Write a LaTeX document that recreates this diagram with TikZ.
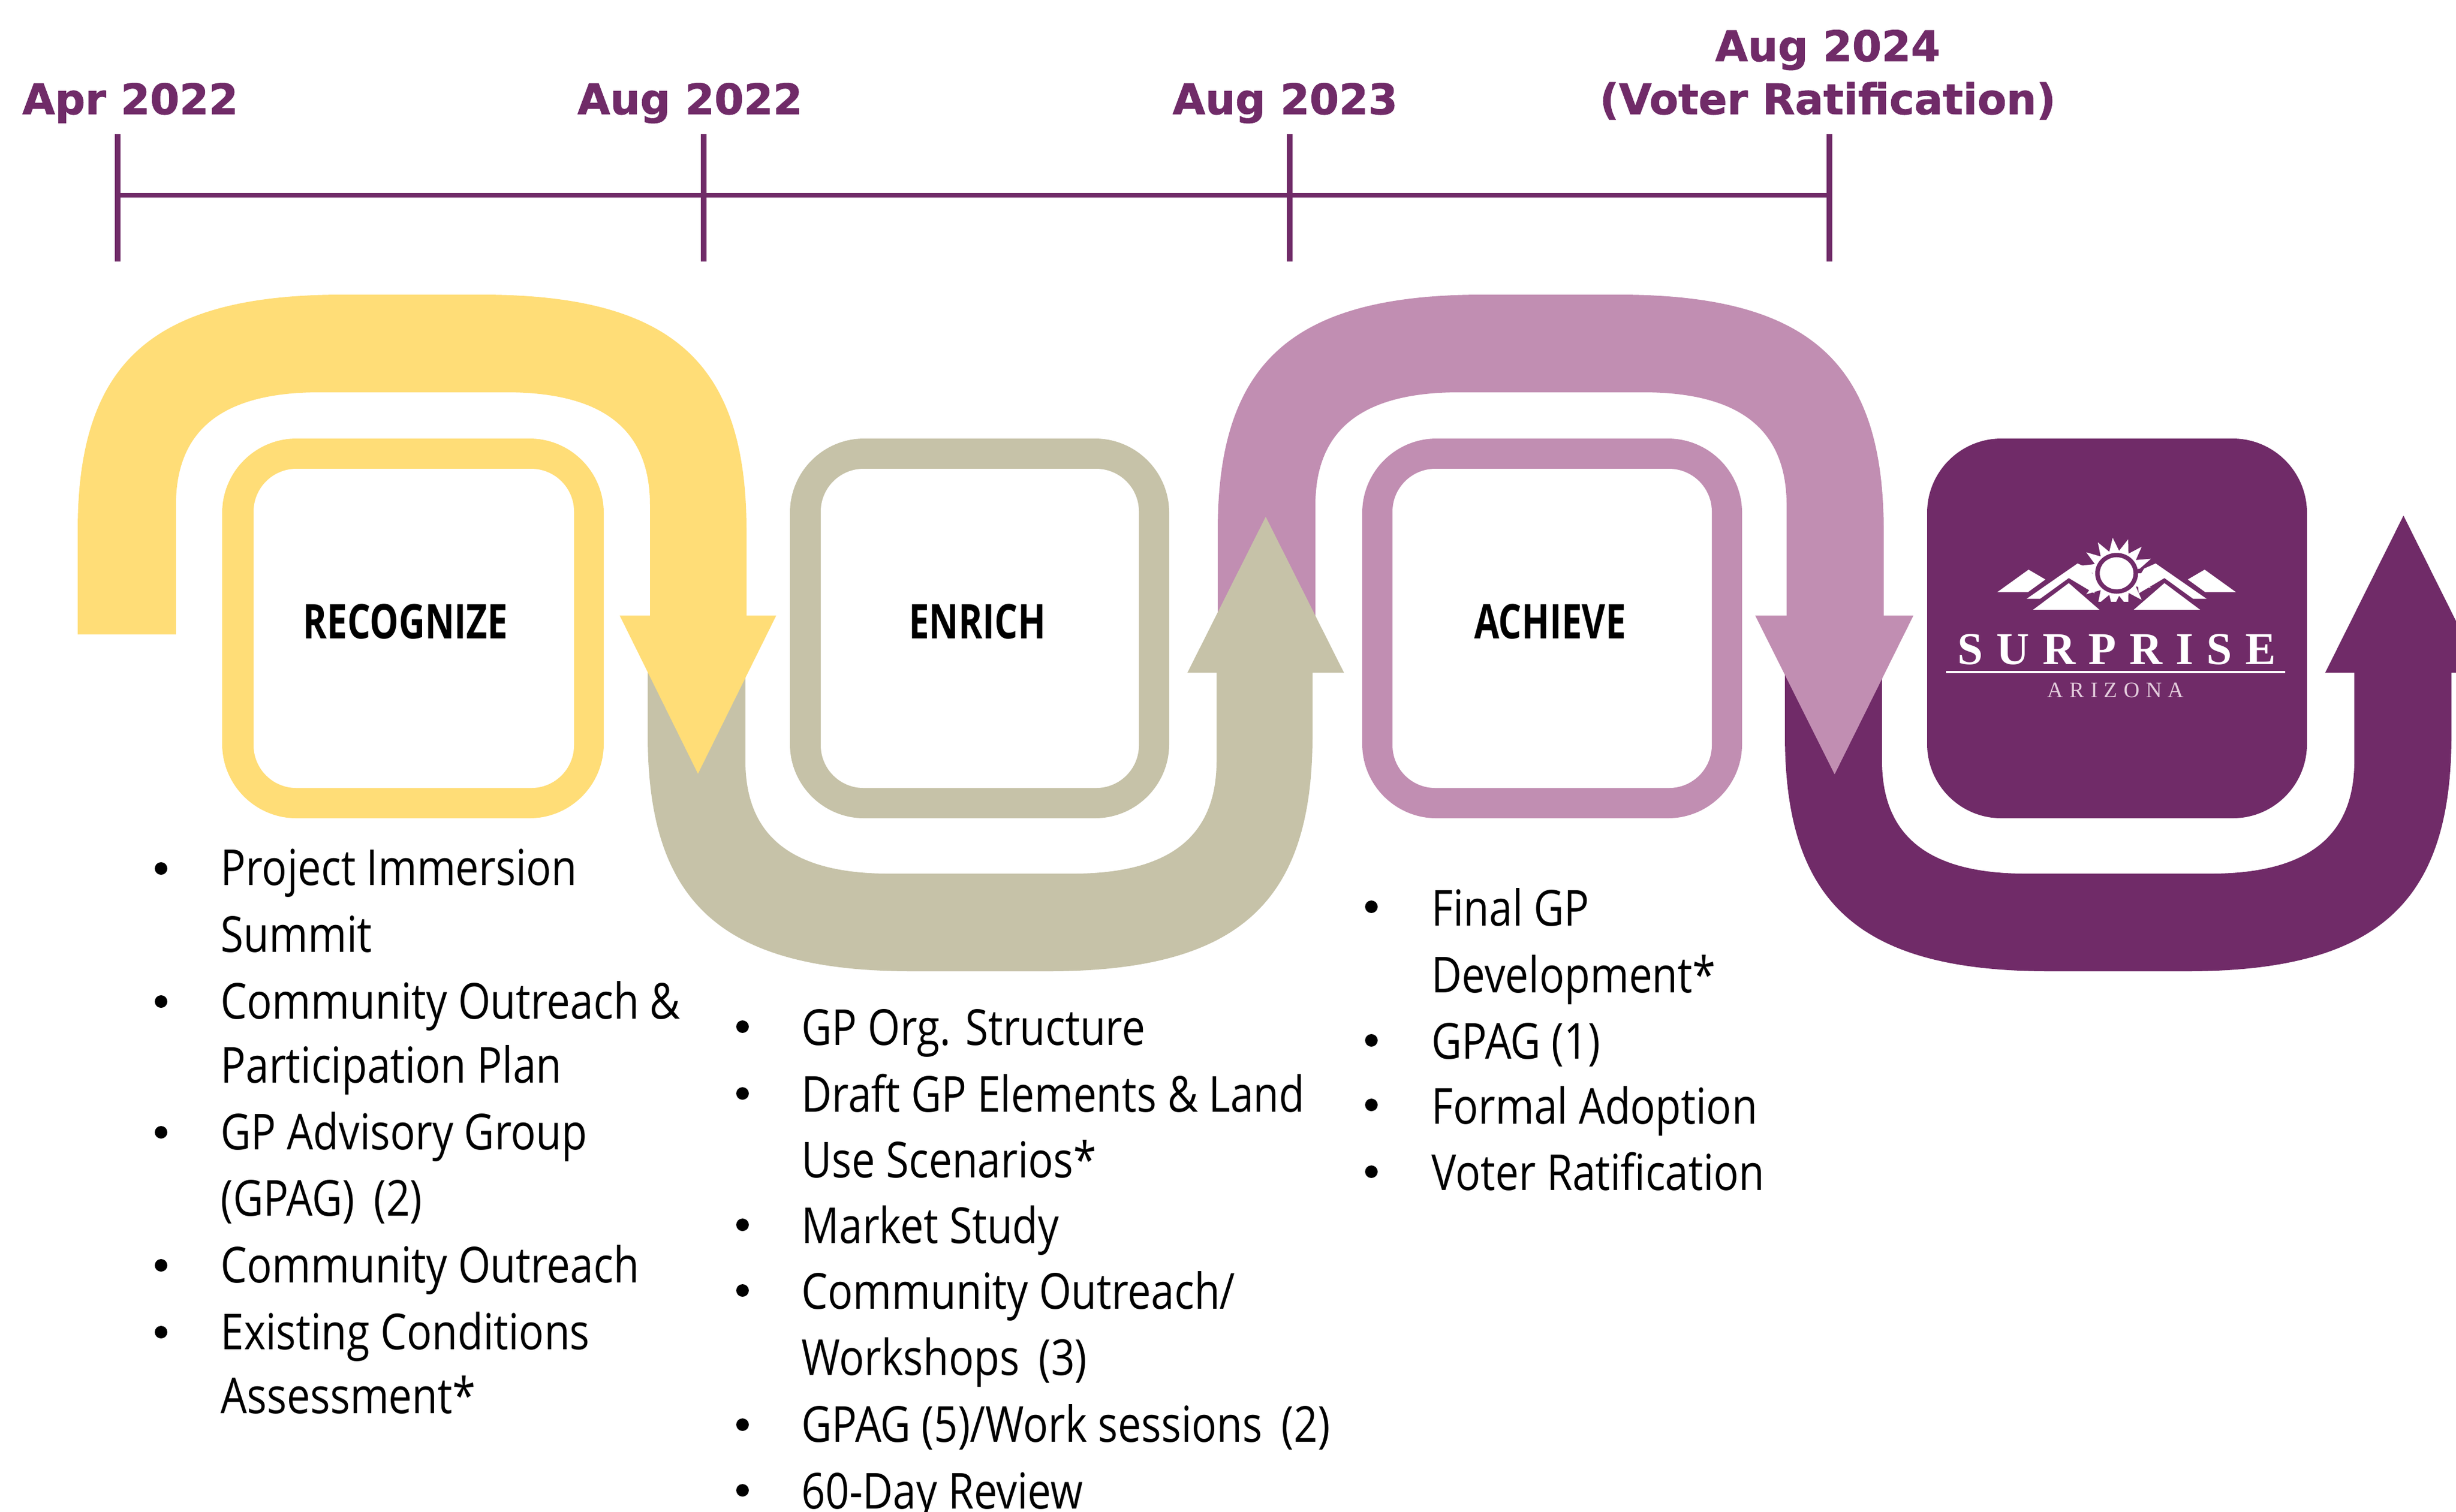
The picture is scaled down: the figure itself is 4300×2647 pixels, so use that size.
\documentclass[tikz,border=0pt]{standalone}
\usepackage{fontspec}
\newfontfamily\bodyf[FakeStretch=0.84]{Open Sans}
\newfontfamily\labelf[FakeStretch=0.76]{Open Sans}
\newfontfamily\datef[FakeBold=1.2]{DejaVu Sans Bold}
\newfontfamily\logof[LetterSpace=29]{Liberation Serif}
\newfontfamily\logosmall[LetterSpace=28]{Liberation Serif}
\definecolor{cyellow}{RGB}{255,221,119}
\definecolor{ctan}{RGB}{198,194,168}
\definecolor{cmauve}{RGB}{193,142,178}
\definecolor{cdark}{RGB}{112,43,104}
\tikzset{
  bodytext/.style={anchor=base west,inner sep=0pt,font=\bodyf\fontsize{24.7}{30}\selectfont,text=black},
  boxlabel/.style={anchor=base,inner sep=0pt,font=\labelf\bfseries\fontsize{23.8}{28}\selectfont,text=black},
  datelabel/.style={anchor=base,inner sep=0pt,font=\datef\fontsize{21}{26}\selectfont,text=cdark},
  ringouter/.style={rounded corners=1.3cm},
  ringinner/.style={rounded corners=0.75cm},
  tl/.style={draw=cdark,line width=2.1pt},
  tick/.style={draw=cdark,line width=2.6pt},
  bul/.style={fill=black}
}
\newcommand{\archdown}[9]{% col,xol,xil,xir,xor,hl,hr,tipx,tipy
  \fill[#1] (#2,1111) -- (#2,930) .. controls (#2,640) and ({#2+124},516) .. ({#2+464},516)
    -- ({#5-464},516) .. controls ({#5-124},516) and (#5,640) .. (#5,930)
    -- (#5,1078) -- (#7,1078) -- (#8,#9) -- (#6,1078) -- (#4,1078) -- (#4,885)
    .. controls (#4,760) and ({#4-72},687) .. ({#4-252},687)
    -- ({#3+252},687) .. controls ({#3+72},687) and (#3,760) .. (#3,885) -- (#3,1111) -- cycle;
}
\newcommand{\updown}[9]{% col,xol,xil,xir,xor,hl,hr,tipx,tipy
  \fill[#1] (#2,1100) -- (#2,1287) .. controls (#2,1577) and ({#2+124},1701) .. ({#2+464},1701)
    -- ({#5-464},1701) .. controls ({#5-124},1701) and (#5,1577) .. (#5,1287)
    -- (#5,1178) -- (#7,1178) -- (#8,#9) -- (#6,1178) -- (#4,1178) -- (#4,1332)
    .. controls (#4,1457) and ({#4-72},1530) .. ({#4-252},1530)
    -- ({#3+252},1530) .. controls ({#3+72},1530) and (#3,1457) .. (#3,1332) -- (#3,1100) -- cycle;
}
\begin{document}
\begin{tikzpicture}[x=0.01cm,y=-0.01cm]
\clip (0,0) rectangle (4300,2647);
\fill[white] (0,0) rectangle (4300,2647);
% timeline
\coordinate (t1) at (206,342);
\coordinate (t2) at (1232,342);
\coordinate (t3) at (2258,342);
\coordinate (t4) at (3203,342);
\draw[tl] (t1) -- (t2) -- (t3) -- (t4);
\draw[tick] (206,235) -- (206,458);
\draw[tick] (1232,235) -- (1232,458);
\draw[tick] (2258,235) -- (2258,458);
\draw[tick] (3203,235) -- (3203,458);
\node[datelabel] (d1) at (228,200) {Apr 2022};
\node[datelabel] (d2) at (1208,200) {Aug 2022};
\node[datelabel] (d3) at (2250,200) {Aug 2023};
\node[datelabel] (d4a) at (3200,107) {Aug 2024};
\node[datelabel] (d4b) at (3200,200) {(Voter Ratification)};
% arrows, back to front
\updown{cdark}{3125}{3295}{4122}{4292}{4071}{4345}{4208}{903}
\archdown{cmauve}{2132}{2303}{3128}{3298}{3073}{3350}{3212}{1356}
\updown{ctan}{1134}{1305}{2130}{2298}{2079}{2353}{2216}{905}
\archdown{cyellow}{136}{308}{1138}{1307}{1085}{1359}{1222}{1355}
% boxes
\fill[cyellow,ringouter] (389,768) rectangle (1057,1433);
\fill[white,ringinner] (444,821) rectangle (1005,1380);
\fill[ctan,ringouter] (1383,768) rectangle (2047,1433);
\fill[white,ringinner] (1437,821) rectangle (1994,1380);
\fill[cmauve,ringouter] (2385,768) rectangle (3050,1433);
\fill[white,ringinner] (2438,821) rectangle (2997,1380);
\fill[cdark,ringouter] (3374,768) rectangle (4039,1433);
\node[boxlabel] (rec) at (710,1118) {RECOGNIZE};
\node[boxlabel] (enr) at (1711,1118) {ENRICH};
\node[boxlabel] (ach) at (2714,1118) {ACHIEVE};
% logo
\begin{scope}[shift={(3250,720)},x=0.006698cm,y=-0.006378cm]
  \begin{scope}
    \clip (500,330) rectangle (860,522);
    \fill[white] (680,445)
      \foreach \a in {0,24,...,336}{ -- ++(0,0) -- ({680+98*cos(\a)},{445+98*sin(\a)}) -- ({680+62*cos(\a+12)},{445+62*sin(\a+12)}) } -- cycle;
  \end{scope}
  \fill[cdark] (680,445) circle[radius=56];
  \fill[white] (680,445) circle[radius=44];
  \foreach \m in {1,-1}{
    \begin{scope}[shift={(680,0)},xscale=\m]
      \fill[white] (-312,497) -- (-230,435) -- (-186,462) -- (-232,497) -- cycle;
      \fill[white] (-235,515) -- (-102,418) -- (-72,432) -- (-54,462) -- (-58,500) -- (-125,458) -- (-200,515) -- cycle;
      \fill[white] (-218,545) -- (-125,472) -- (-45,545) -- cycle;
    \end{scope}
  }
\end{scope}
\node[anchor=base west,inner sep=0pt,font=\logof\bfseries\fontsize{22.7}{26}\selectfont,text=white] (surprise) at (3427,1163) {SURPRISE};
\fill[white] (3407,1175) rectangle (4001,1179);
\node[anchor=base west,inner sep=0pt,font=\logosmall\fontsize{11}{13}\selectfont,text=cmauve!45!white] (arizona) at (3584,1221) {ARIZONA};
% list 1
\foreach \y in {1521,1754,1983,2216,2333}{\fill[bul] (282,\y) circle[radius=11];}
\node[bodytext] (a1) at (386,1550) {Project Immersion};
\node[bodytext] (a2) at (386,1667) {Summit};
\node[bodytext] (a3) at (386,1784) {Community Outreach \&};
\node[bodytext] (a4) at (386,1896) {Participation Plan};
\node[bodytext] (a5) at (386,2013) {GP Advisory Group};
\node[bodytext] (a6) at (386,2129) {(GPAG)\, (2)};
\node[bodytext] (a7) at (386,2246) {Community Outreach};
\node[bodytext] (a8) at (386,2363) {Existing Conditions};
\node[bodytext] (a9) at (386,2475) {Assessment*};
% list 2
\foreach \y in {1798,1915,2145,2260,2495,2610}{\fill[bul] (1300,\y) circle[radius=11];}
\node[bodytext] (b1) at (1403,1830) {GP Org. Structure};
\node[bodytext] (b2) at (1403,1947) {Draft GP Elements \& Land};
\node[bodytext] (b3) at (1403,2062) {Use Scenarios*};
\node[bodytext] (b4) at (1403,2177) {Market Study};
\node[bodytext] (b5) at (1403,2292) {Community Outreach/};
\node[bodytext] (b6) at (1403,2408) {Workshops\, (3)};
\node[bodytext] (b7) at (1403,2525) {GPAG (5)/Work sessions\, (2)};
\node[bodytext] (b8) at (1403,2642) {60-Day Review};
% list 3
\foreach \y in {1588,1822,1935,2052}{\fill[bul] (2401,\y) circle[radius=11];}
\node[bodytext] (c1) at (2506,1621) {Final GP};
\node[bodytext] (c2) at (2506,1738) {Development*};
\node[bodytext] (c3) at (2506,1854) {GPAG (1)};
\node[bodytext] (c4) at (2506,1968) {Formal Adoption};
\node[bodytext] (c5) at (2506,2084) {Voter Ratification};
\end{tikzpicture}
\end{document}
